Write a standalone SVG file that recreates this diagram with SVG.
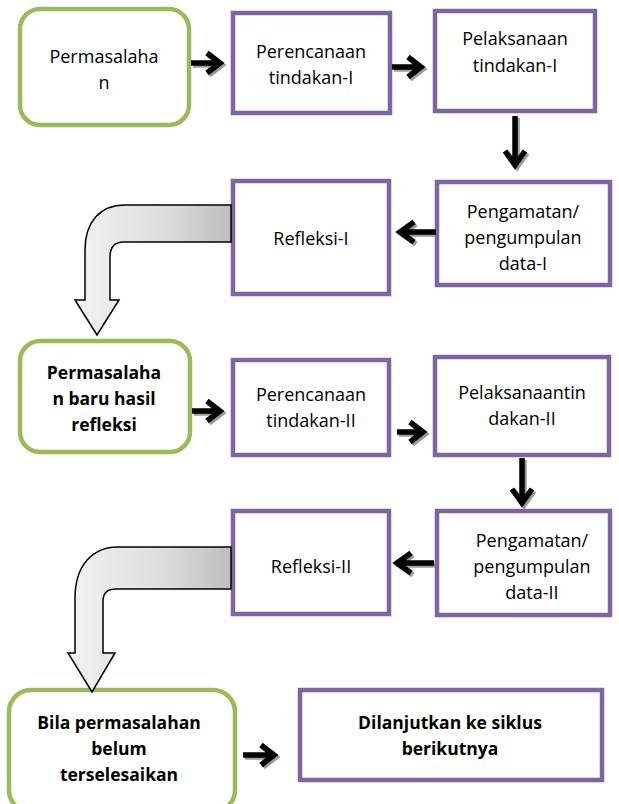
<svg xmlns="http://www.w3.org/2000/svg" width="619" height="804" viewBox="0 0 619 804">
<defs>
<style>
.g{fill:#fff;stroke:#9BBB59;stroke-width:4.5}
.p{fill:#fff;stroke:#8064A2;stroke-width:4.5}
text{font-family:"Open Sans","Liberation Sans",sans-serif;font-size:18px;fill:#000;text-anchor:middle}
.b{font-weight:bold;font-size:17.5px}
.ar{fill:none;stroke:#000;stroke-width:5.5;stroke-linejoin:miter}
.sh{fill:none;stroke:#777;stroke-width:5.5;opacity:0.75}
.bend{fill:url(#gr);stroke:#000;stroke-width:1.5}
</style>
<linearGradient id="gr" x1="0" y1="0" x2="1" y2="0">
<stop offset="0" stop-color="#f2f2f2"/>
<stop offset="0.6" stop-color="#dcdcdc"/>
<stop offset="1" stop-color="#bdbdbd"/>
</linearGradient>
</defs>
<g id="n1"><rect class="g" x="20" y="9" width="169" height="116" rx="20"/><text x="104" y="63">Permasalaha</text><text x="104" y="89">n</text></g>
<g id="n2"><rect class="p" x="233" y="13" width="157" height="100"/><text x="311" y="58">Perencanaan</text><text x="311" y="84">tindakan-I</text></g>
<g id="n3"><rect class="p" x="435" y="11" width="160" height="100"/><text x="515" y="45">Pelaksanaan</text><text x="515" y="72">tindakan-I</text></g>
<g id="n4"><rect class="p" x="437" y="182" width="173" height="103"/><text x="523" y="218">Pengamatan/</text><text x="523" y="244">pengumpulan</text><text x="523" y="270">data-I</text></g>
<g id="n5"><rect class="p" x="233" y="181" width="156" height="113"/><text x="311" y="245">Refleksi-I</text></g>
<g id="n6"><rect class="g" x="20" y="341" width="170" height="111" rx="20"/><text class="b" x="104" y="379">Permasalaha</text><text class="b" x="104" y="405">n baru hasil</text><text class="b" x="104" y="431">refleksi</text></g>
<g id="n7"><rect class="p" x="233" y="360" width="156" height="95"/><text x="311" y="401">Perencanaan</text><text x="311" y="427">tindakan-II</text></g>
<g id="n8"><rect class="p" x="435" y="357" width="174" height="98"/><text x="522" y="399">Pelaksanaantin</text><text x="522" y="425">dakan-II</text></g>
<g id="n9"><rect class="p" x="437" y="511" width="173" height="104"/><text x="532" y="547">Pengamatan/</text><text x="532" y="573">pengumpulan</text><text x="532" y="599">data-II</text></g>
<g id="n10"><rect class="p" x="233" y="511" width="156" height="103"/><text x="311" y="573">Refleksi-II</text></g>
<g id="n11"><rect class="g" x="9" y="690" width="226" height="122" rx="22"/><text class="b" x="119" y="729">Bila permasalahan</text><text class="b" x="119" y="755">belum</text><text class="b" x="119" y="781">terselesaikan</text></g>
<g id="n12"><rect class="p" x="300" y="690" width="302" height="90"/><text class="b" x="450" y="729">Dilanjutkan ke siklus</text><text class="b" x="450" y="755">berikutnya</text></g>
<g id="connectors">
<g transform="translate(2,2)">
<path class="sh" d="M191,63 H218 M207,53 L220,63 L207,73"/>
<path class="sh" d="M392,67 H419 M408,57 L421,67 L408,77"/>
<path class="sh" d="M515,116 V162 M505,151 L515,165 L525,151"/>
<path class="sh" d="M436,232 H403 M414,222 L400,232 L414,242"/>
<path class="sh" d="M192,411 H218 M207,401 L220,411 L207,421"/>
<path class="sh" d="M397,432 H421 M410,422 L423,432 L410,442"/>
<path class="sh" d="M522,458 V500 M512,489 L522,503 L532,489"/>
<path class="sh" d="M434,563 H400 M411,553 L397,563 L411,573"/>
<path class="sh" d="M243,755 H272 M261,745 L274,755 L261,765"/>
</g>
<path class="ar" d="M191,63 H218 M207,53 L220,63 L207,73"/>
<path class="ar" d="M392,67 H419 M408,57 L421,67 L408,77"/>
<path class="ar" d="M515,116 V162 M505,151 L515,165 L525,151"/>
<path class="ar" d="M436,232 H403 M414,222 L400,232 L414,242"/>
<path class="ar" d="M192,411 H218 M207,401 L220,411 L207,421"/>
<path class="ar" d="M397,432 H421 M410,422 L423,432 L410,442"/>
<path class="ar" d="M522,458 V500 M512,489 L522,503 L532,489"/>
<path class="ar" d="M434,563 H400 M411,553 L397,563 L411,573"/>
<path class="ar" d="M243,755 H272 M261,745 L274,755 L261,765"/>
<path class="bend" d="M231,205 L125,205 C100,205 85,222 85,250 L85,300 L75,300 L97,335 L119,300 L110,300 L110,257 C110,247 115,242 124,242 L231,242 Z"/>
<path class="bend" d="M231,547 L118,547 C92,547 75,566 75,598 L75,653 L68,653 L92,692 L115,653 L103,653 L103,601 C103,593 108,589 116,589 L231,589 Z"/>
</g>
</svg>
